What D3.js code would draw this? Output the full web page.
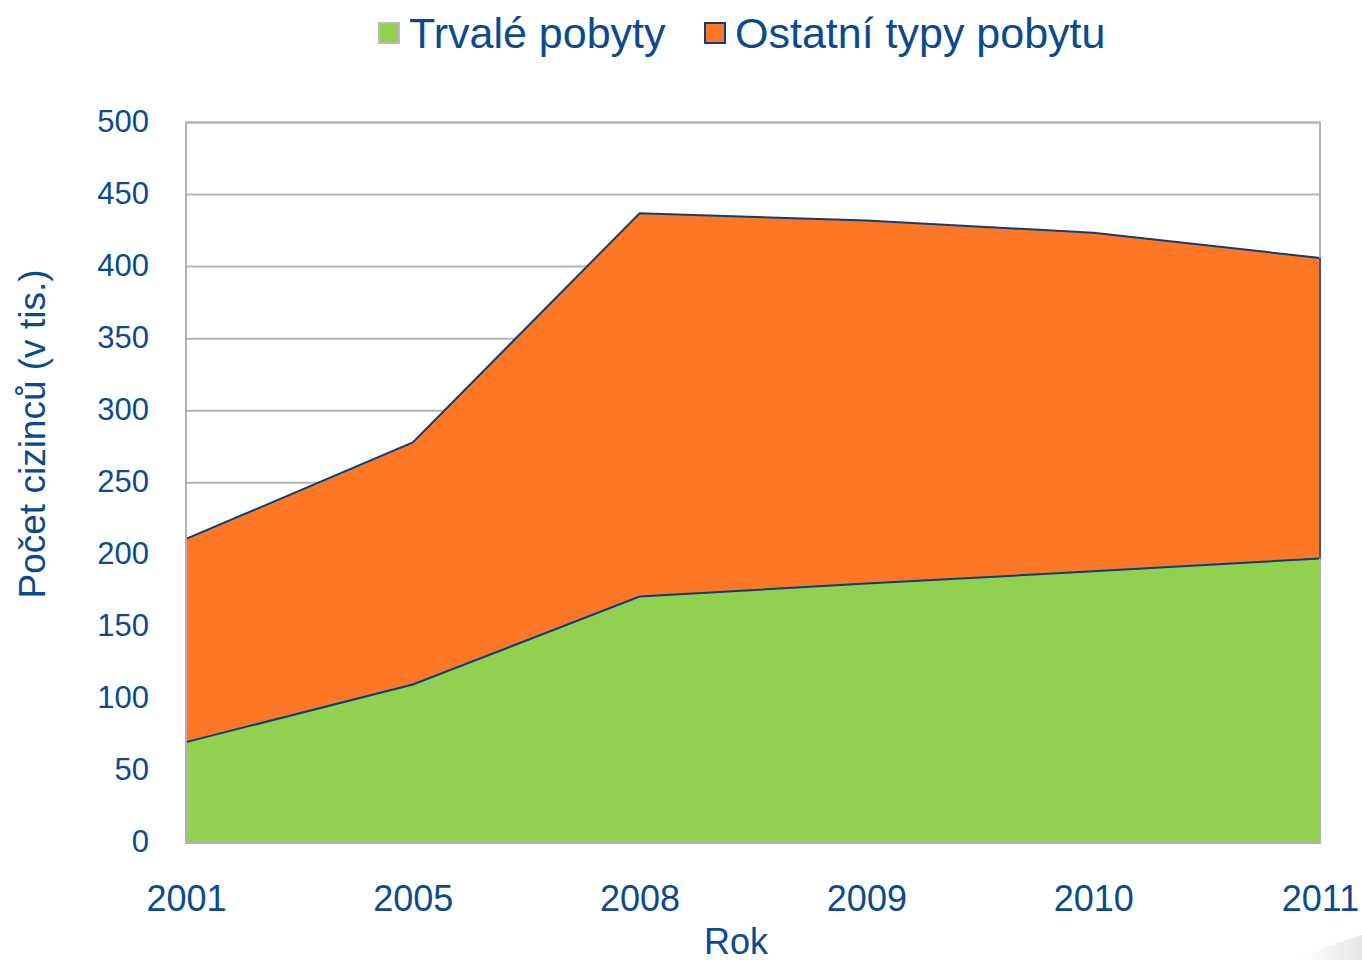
<!DOCTYPE html>
<html>
<head>
<meta charset="utf-8">
<title></title>
<style>
body { margin: 0; background: #fff; }
text { font-family: "Liberation Sans", Arial, sans-serif; fill: #0b4a8f; }
.grid line { stroke: #b5b5b5; stroke-width: 2px; }
</style>
</head>
<body>
<script src="https://cdn.jsdelivr.net/npm/d3@7"></script>
<script>

// data (v tis.)
var years = ["2001", "2005", "2008", "2009", "2010", "2011"];
var trvale = [70, 110, 171, 180, 188.5, 197.5];
var ostatni = [141, 168, 266, 252, 235, 208.5];
var seriesNames = ["Trvalé pobyty", "Ostatní typy pobytu"];
var yTicks = [0, 50, 100, 150, 200, 250, 300, 350, 400, 450, 500];

var width = 1362, height = 960;
var plotLeft = 186, plotRight = 1320, plotTop = 122.5, plotBottom = 843;

var colors = ["#92d050", "#fd7726"];
var lineColor = "#0b3f78";

var rows = years.map(function(y, i) {
  return {year: y, trvale: trvale[i], ostatni: ostatni[i]};
});

var stack = d3.stack().keys(["trvale", "ostatni"]);
var layers = stack(rows);

var x = d3.scalePoint().domain(years).range([plotLeft, plotRight]);
var y = d3.scaleLinear().domain([0, 500]).range([plotBottom, plotTop]);

var svg = d3.select("body").append("svg")
    .attr("width", width)
    .attr("height", height);

// decorative swoosh bottom right
var defs = svg.append("defs");
var grad = defs.append("linearGradient").attr("id", "sw")
    .attr("x1", "0").attr("y1", "0").attr("x2", "1").attr("y2", "0");
grad.append("stop").attr("offset", "0").attr("stop-color", "#ffffff");
grad.append("stop").attr("offset", "1").attr("stop-color", "#e6e6e6");
svg.append("path")
    .attr("d", "M1300,960 Q1335,942 1362,935 L1362,960 Z")
    .attr("fill", "url(#sw)");

// gridlines
svg.append("g").attr("class", "grid")
  .selectAll("line")
  .data(yTicks)
  .enter().append("line")
    .attr("x1", plotLeft).attr("x2", plotRight)
    .attr("y1", function(d) { return y(d); })
    .attr("y2", function(d) { return y(d); });

// areas
var area = d3.area()
    .x(function(d) { return x(d.data.year); })
    .y0(function(d) { return y(d[0]); })
    .y1(function(d) { return y(d[1]); });

svg.append("g")
  .selectAll("path")
  .data(layers)
  .enter().append("path")
    .attr("d", area)
    .attr("fill", function(d, i) { return colors[i]; });

// top outlines of each layer
var line = d3.line()
    .x(function(d) { return x(d.data.year); })
    .y(function(d) { return y(d[1]); });

svg.append("g")
  .selectAll("path")
  .data(layers)
  .enter().append("path")
    .attr("d", line)
    .attr("fill", "none")
    .attr("stroke", lineColor)
    .attr("stroke-width", 2);

// plot border
svg.append("rect")
    .attr("x", plotLeft).attr("y", plotTop)
    .attr("width", plotRight - plotLeft).attr("height", plotBottom - plotTop)
    .attr("fill", "none")
    .attr("stroke", "#b0b0b0")
    .attr("stroke-width", 2);

// right edge of orange layer
var last = layers[1][years.length - 1];
svg.append("line")
    .attr("x1", plotRight).attr("x2", plotRight)
    .attr("y1", y(last[1]))
    .attr("y2", y(last[0]))
    .attr("stroke", lineColor).attr("stroke-width", 1.5);

// y axis
var yAxis = d3.axisLeft(y).tickValues(yTicks).tickSize(0).tickPadding(0);
var gy = svg.append("g")
    .attr("transform", "translate(149,0)")
    .call(yAxis);
gy.select(".domain").remove();
gy.selectAll("text")
    .attr("fill", "#0b4a8f")
    .style("font-size", "31px")
    .attr("dy", "0.28em");

// x axis
var xAxis = d3.axisBottom(x).tickSize(0).tickPadding(0);
var gx = svg.append("g")
    .attr("transform", "translate(0,911)")
    .call(xAxis);
gx.select(".domain").remove();
gx.selectAll("text")
    .attr("fill", "#0b4a8f")
    .style("font-size", "36px")
    .attr("dy", "0");

// axis titles
svg.append("text")
    .attr("x", 736).attr("y", 954)
    .attr("text-anchor", "middle")
    .style("font-size", "36px")
    .text("Rok");

svg.append("text")
    .attr("transform", "translate(45,434) rotate(-90)")
    .attr("text-anchor", "middle")
    .style("font-size", "37px")
    .text("Počet cizinců (v tis.)");

// legend
var legendX = [378, 704];
var legend = svg.append("g")
  .selectAll("g")
  .data(seriesNames)
  .enter().append("g")
    .attr("transform", function(d, i) { return "translate(" + legendX[i] + ",0)"; });

legend.append("rect")
    .attr("x", 1).attr("y", 23)
    .attr("width", 20).attr("height", 20)
    .attr("fill", function(d, i) { return colors[i]; })
    .attr("stroke", function(d, i) { return i == 0 ? "#b9b9b9" : lineColor; })
    .attr("stroke-width", 2);

legend.append("text")
    .attr("x", 31).attr("y", 48)
    .style("font-size", "43px")
    .text(function(d) { return d; });

</script>
</body>
</html>
